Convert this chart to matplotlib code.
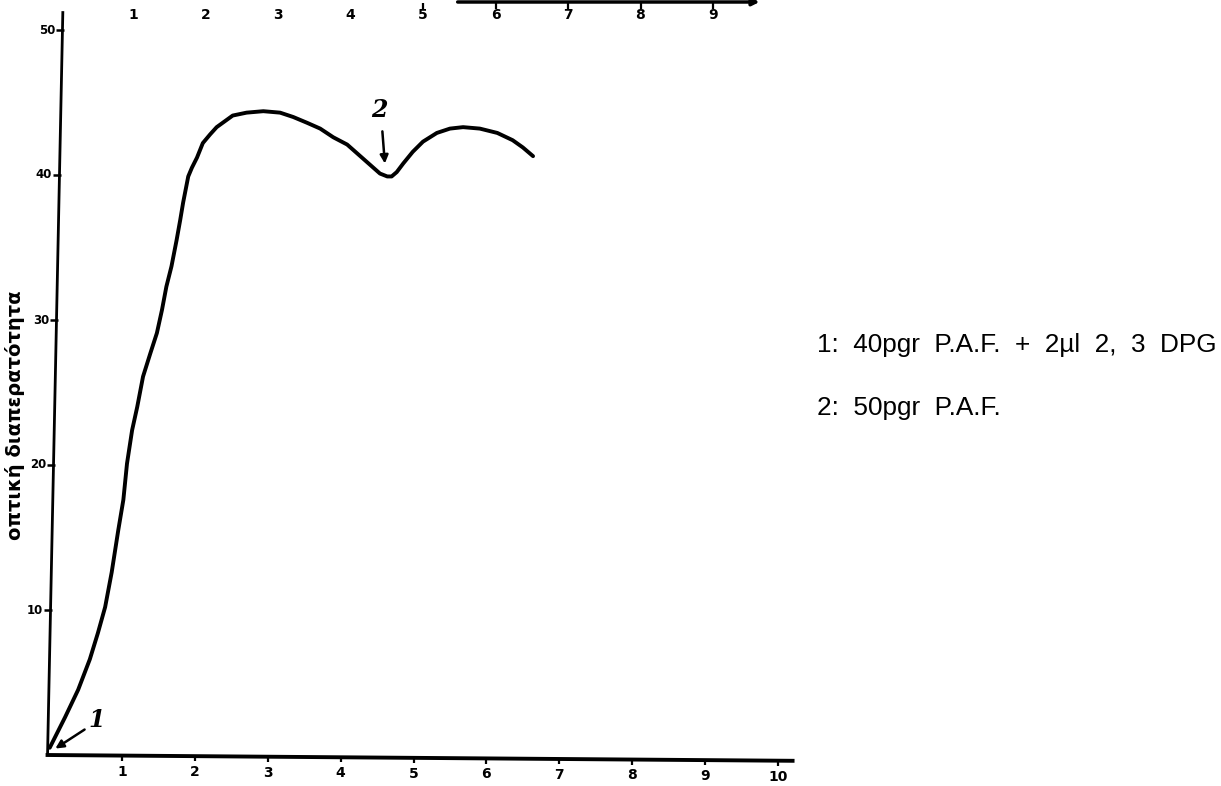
import matplotlib
matplotlib.use("Agg")
import matplotlib.pyplot as plt

# curve: time vs optical transmittance
time_min = [0.01, 0.22, 0.40, 0.56, 0.67, 0.77, 0.86, 0.95, 1.02, 1.07, 1.14, 1.21, 1.29,
            1.39, 1.48, 1.55, 1.61, 1.68, 1.75, 1.80, 1.84, 1.91, 1.96, 2.03, 2.11, 2.21,
            2.30, 2.41, 2.52, 2.71, 2.94, 3.17, 3.35, 3.54, 3.72, 3.90, 4.09, 4.27, 4.45,
            4.54, 4.64, 4.70, 4.77, 4.86, 4.99, 5.13, 5.32, 5.50, 5.68, 5.91, 6.15, 6.36,
            6.50, 6.64]
transmittance = [0.5, 2.6, 4.5, 6.6, 8.4, 10.2, 12.6, 15.5, 17.6, 20.1, 22.4, 24.0, 26.1,
                 27.7, 29.1, 30.7, 32.3, 33.7, 35.5, 36.9, 38.1, 39.9, 40.5, 41.2, 42.2, 42.8,
                 43.3, 43.7, 44.1, 44.3, 44.4, 44.3, 44.0, 43.6, 43.2, 42.6, 42.1, 41.3, 40.5,
                 40.1, 39.9, 39.9, 40.2, 40.8, 41.6, 42.3, 42.9, 43.2, 43.3, 43.2, 42.9, 42.4,
                 41.9, 41.3]

x_ticks = [1, 2, 3, 4, 5, 6, 7, 8, 9, 10]
y_ticks = [10, 20, 30, 40, 50]
top_ticks = [1, 2, 3, 4, 5, 6, 7, 8, 9]   # axis of the chart cut off above

y_label = "οπτική διαπερατότητα"
legend_lines = ["1:  40pgr  P.A.F.  +  2µl  2,  3  DPG", "2:  50pgr  P.A.F."]

W, H = 1221, 786
fig = plt.figure(figsize=(W / 100, H / 100), dpi=100)
fig.patch.set_facecolor("white")

# main axes: x 0 -> px 49, 72.9 px per unit; y 0 -> px 755, 14.5 px per unit
xlo, xhi = -0.5, 10.5
ylo, yhi = -2.0, 52.0
left_px = 49 + xlo * 72.9
width_px = (xhi - xlo) * 72.9
bottom_px = 755 - ylo * 14.5
height_px = (yhi - ylo) * 14.5
ax = fig.add_axes([left_px / W, 1 - bottom_px / H, width_px / W, height_px / H])
ax.set_xlim(xlo, xhi)
ax.set_ylim(ylo, yhi)
ax.axis("off")

hand = dict(family="DejaVu Sans", fontweight="bold", color="black")


# hand-drawn axes are a little skewed
def yaxis_x(y):
    return -0.02 + 0.21 * y / 51.3


def xaxis_y(x):
    return -0.4 * x / 10.2


ax.plot([yaxis_x(0), yaxis_x(51.3)], [0, 51.3], color="black", lw=2.0,
        solid_capstyle="butt", clip_on=False)
ax.plot([-0.02, 10.2], [0, xaxis_y(10.2)], color="black", lw=2.8, clip_on=False)

for yv in y_ticks:
    ax.plot(yaxis_x(yv) - 0.03, yv, marker="_", ms=6, mew=1.8, color="black")
    ax.text(yaxis_x(yv) - 0.1, yv, str(yv), ha="right", va="center", fontsize=8.5, **hand)

for xv in x_ticks:
    ax.plot(xv, xaxis_y(xv) - 0.15, marker="|", ms=4, mew=1.6, color="black")
    ax.text(xv, xaxis_y(xv) - 1.1, str(xv), ha="center", va="center", fontsize=10, **hand)

ax.plot(time_min, transmittance, color="black", lw=2.8,
        solid_capstyle="round", solid_joinstyle="round")

# injection marks
ax.annotate("", xy=(0.055, 0.34), xytext=(0.52, 1.86),
            arrowprops=dict(arrowstyle="-|>", lw=1.8, color="black", mutation_scale=12))
ax.text(0.66, 2.4, "1", ha="center", va="center", fontsize=17,
        family="DejaVu Serif", fontstyle="italic", fontweight="bold")
ax.annotate("", xy=(4.61, 40.6), xytext=(4.57, 43.2),
            arrowprops=dict(arrowstyle="-|>", lw=1.8, color="black", mutation_scale=12))
ax.text(4.53, 44.5, "2", ha="center", va="center", fontsize=17,
        family="DejaVu Serif", fontstyle="italic", fontweight="bold")

# remnant of the chart above (cut off by the page edge)
ax_top = fig.add_axes([60.5 / W, 1 - 2 / H, 725 / W, 1 / H])
ax_top.set_xlim(0, 10)
ax_top.set_ylim(0, 1)
ax_top.axis("off")
line_start, line_end = 5.44, 9.68
ax_top.annotate("", xy=(line_end, 0), xytext=(line_start, 0), annotation_clip=False,
                arrowprops=dict(arrowstyle="-|>", lw=2.5, color="black", mutation_scale=10))
for k in top_ticks:
    if k >= line_start - 0.5:
        ax_top.plot(k, -4, marker="|", ms=4, mew=1.6, color="black", clip_on=False)
    ax_top.text(k, -13, str(k), ha="center", va="center", fontsize=10, clip_on=False, **hand)

fig.text(15 / W, 1 - 415 / H, y_label, rotation=90, ha="center", va="center",
         fontsize=14, **hand)

for i, line in enumerate(legend_lines):
    fig.text(817 / W, 1 - (345 + 63 * i) / H, line, ha="left", va="center",
             fontsize=18.8, family="Liberation Sans", color="black")

fig.savefig("out.png", dpi=100, facecolor="white")
